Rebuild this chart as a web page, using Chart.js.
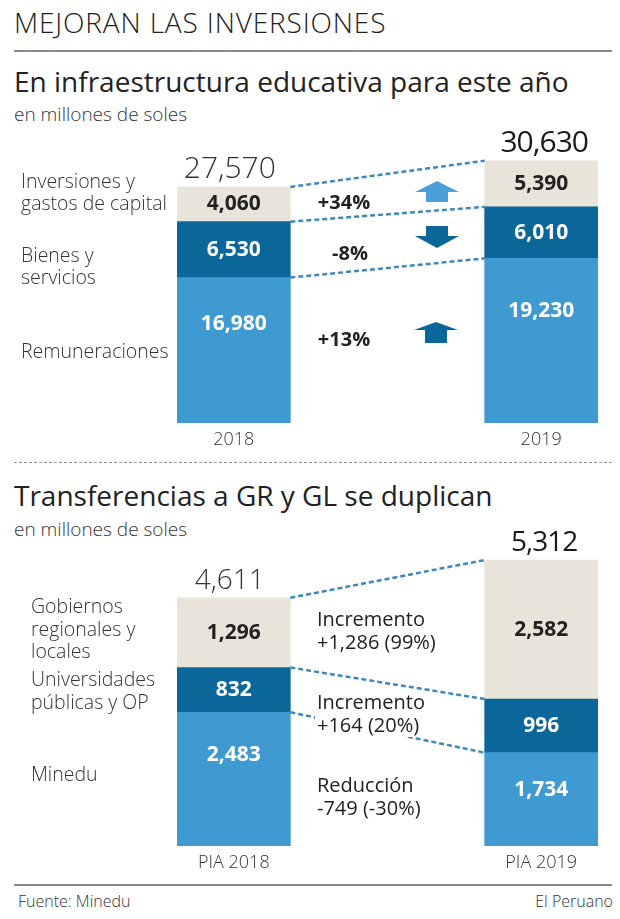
<!DOCTYPE html>
<html>
<head>
<meta charset="utf-8">
<script src="https://cdn.jsdelivr.net/npm/chart.js@4/dist/chart.umd.min.js"></script>
<style>
  body { margin: 0; background: #fff; }
  #page { position: relative; width: 620px; height: 919px; font-family: "Open Sans", sans-serif; color: #222; overflow: hidden; }
  .t { position: absolute; white-space: nowrap; line-height: 1; }
  canvas { position: absolute; left: 0; }
</style>
</head>
<body>
<div id="page">
  <div class="t" style="left:14px; top:8px; font-size:28px; font-weight:300; letter-spacing:0.85px;">MEJORAN LAS INVERSIONES</div>
  <div style="position:absolute; left:14px; top:50px; width:598px; height:2px; background:#8c8c8c;"></div>
  <div class="t" style="left:14px; top:67px; font-size:28px; font-weight:500;">En infraestructura educativa para este año</div>
  <div class="t" style="left:14px; top:105px; font-size:19px; font-weight:300; color:#333;">en millones de soles</div>

  <div style="position:absolute; left:14px; top:462px; width:598px; border-top:1.5px dashed #999;"></div>
  <div class="t" style="left:14px; top:481px; font-size:28px; font-weight:500;">Transferencias a GR y GL se duplican</div>
  <div class="t" style="left:14px; top:520px; font-size:19px; font-weight:300; color:#333;">en millones de soles</div>

  <div style="position:absolute; left:14px; top:884px; width:598px; height:2px; background:#8c8c8c;"></div>
  <div class="t" style="left:18px; top:893px; font-size:16px; font-weight:300; color:#333;">Fuente: Minedu</div>
  <div class="t" style="right:7px; top:893px; font-size:16px; font-weight:300; color:#333;">El Peruano</div>

  <canvas id="c1" width="620" height="320" style="top:130px;"></canvas>
  <canvas id="c2" width="620" height="410" style="top:470px;"></canvas>
</div>
<script>
// ─── Data ─────────────────────────────────────────────────────────────────────
const years1         = ['2018', '', '2019'];
const remuneraciones = [16980, null, 19230];
const bienes         = [6530, null, 6010];
const inversiones    = [4060, null, 5390];

const years2        = ['PIA 2018', '', 'PIA 2019'];
const minedu        = [2483, null, 1734];
const universidades = [832, null, 996];
const gobiernos     = [1296, null, 2582];

const BEIGE = '#e9e4d9';
const DARK  = '#0b6699';
const LIGHT = '#3f9ad1';
const FONT  = '"Open Sans", sans-serif';

const fmt = v => v.toLocaleString('en-US');

// ─── Overlay plugin: labels, connectors, arrows ───────────────────────────────
const overlay = {
  id: 'overlay',
  afterDatasetsDraw(chart, args, opts) {
    const c = chart.ctx;
    const off = opts.offset;
    const metas = chart.data.datasets.map((d, i) => chart.getDatasetMeta(i));

    // dashed connectors between segment tops
    c.save();
    c.strokeStyle = '#3f88bb';
    c.lineWidth = 2.5;
    c.setLineDash([5, 3]);
    metas.forEach(m => {
      const a = m.data[0], b = m.data[2];
      c.beginPath();
      c.moveTo(a.x + a.width / 2, a.y);
      c.lineTo(b.x - b.width / 2, b.y);
      c.stroke();
    });
    c.restore();

    // values inside segments
    c.save();
    c.textAlign = 'center';
    c.textBaseline = 'middle';
    c.font = `bold 21px ${FONT}`;
    metas.forEach((m, di) => {
      [0, 2].forEach(idx => {
        const el = m.data[idx];
        const v = chart.data.datasets[di].data[idx];
        const h = el.base - el.y;
        const y = di === 0 ? el.y + Math.max(0.32 * h, 37) : (el.y + el.base) / 2;
        c.fillStyle = di === 2 ? '#222' : '#fff';
        c.fillText(fmt(v), el.x, y);
      });
    });

    // totals and category labels
    const top = metas[metas.length - 1];
    [0, 2].forEach(idx => {
      const el = top.data[idx];
      const total = chart.data.datasets.reduce((s, d) => s + d.data[idx], 0);
      c.textBaseline = 'alphabetic';
      c.fillStyle = idx === 0 ? '#333' : '#1a1a1a';
      c.font = `${idx === 0 ? 300 : 400} ${opts.totalSize}px ${FONT}`;
      c.letterSpacing = idx === 0 ? '0px' : '-1px';
      c.fillText(fmt(total), el.x - (idx === 0 ? 4 : -3), el.y - 9);
      c.letterSpacing = '0px';
      c.font = `300 18px ${FONT}`;
      c.fillStyle = '#333';
      c.textBaseline = 'middle';
      c.fillText(chart.data.labels[idx], el.x, metas[0].data[idx].base + 17);
    });

    // left series labels
    c.textAlign = 'left';
    c.textBaseline = 'middle';
    c.font = `300 19.5px ${FONT}`;
    c.fillStyle = '#333';
    opts.left.forEach(([txt, x, y]) => c.fillText(txt, x, y - off));

    // middle notes
    opts.notes.forEach(([txt, x, y, bold, align]) => {
      c.font = `${bold ? 'bold' : '400'} 20px ${FONT}`;
      c.textAlign = align || 'left';
      if (!bold) {
        const w = c.measureText(txt).width;
        c.fillStyle = '#fff';
        c.fillRect(x - 2, y - off - 11, w + 4, 22);
      }
      c.fillStyle = '#222';
      c.fillText(txt, x, y - off);
    });

    // arrows
    opts.arrows.forEach(([cx, y0, up, col, head]) => {
      const y = y0 - off;
      c.fillStyle = col;
      c.beginPath();
      if (up) {
        c.moveTo(cx, y);
        c.lineTo(cx + 22, y + head);
        c.lineTo(cx + 11, y + head);
        c.lineTo(cx + 11, y + 21);
        c.lineTo(cx - 11, y + 21);
        c.lineTo(cx - 11, y + head);
        c.lineTo(cx - 22, y + head);
      } else {
        c.moveTo(cx - 11, y);
        c.lineTo(cx + 11, y);
        c.lineTo(cx + 11, y + 10);
        c.lineTo(cx + 22, y + 10);
        c.lineTo(cx, y + 22);
        c.lineTo(cx - 22, y + 10);
        c.lineTo(cx - 11, y + 10);
      }
      c.closePath();
      c.fill();
    });
    c.restore();
  }
};

function makeChart(id, labels, series, names, max, pad, extra) {
  const colors = [LIGHT, DARK, BEIGE];
  return new Chart(document.getElementById(id), {
    type: 'bar',
    data: {
      labels,
      datasets: series.map((s, i) => ({
        label: names[i],
        data: s,
        backgroundColor: colors[i],
        borderWidth: 0,
        barThickness: 113,
      }))
    },
    options: {
      responsive: false,
      animation: false,
      layout: { padding: pad },
      plugins: { legend: { display: false }, tooltip: { enabled: false }, overlay: extra },
      scales: {
        x: { stacked: true, display: false },
        y: { stacked: true, display: false, min: 0, max }
      }
    },
    plugins: [overlay]
  });
}

makeChart('c1', years1, [remuneraciones, bienes, inversiones],
  ['Remuneraciones', 'Bienes y servicios', 'Inversiones y gastos de capital'],
  32000, { left: 157, right: 2, top: 19, bottom: 27 },
  {
    offset: 130,
    totalSize: 30,
    left: [['Inversiones y', 21, 182], ['gastos de capital', 21, 204], ['Bienes y', 21, 256], ['servicios', 21, 278], ['Remuneraciones', 21, 352]],
    notes: [['+34%', 344, 203, true, 'center'], ['-8%', 350, 254, true, 'center'], ['+13%', 344, 340, true, 'center']],
    arrows: [[437, 181, true, '#4ba0da', 11], [437, 226, false, DARK, 10], [436, 322, true, DARK, 8]]
  });

makeChart('c2', years2, [minedu, universidades, gobiernos],
  ['Minedu', 'Universidades públicas y OP', 'Gobiernos regionales y locales'],
  6000, { left: 157, right: 2, top: 53, bottom: 34 },
  {
    offset: 470,
    totalSize: 28,
    left: [['Gobiernos', 31, 607], ['regionales y', 31, 630], ['locales', 31, 652], ['Universidades', 31, 680], ['públicas y OP', 31, 703], ['Minedu', 31, 775]],
    notes: [['Incremento', 317, 620], ['+1,286 (99%)', 317, 643], ['Incremento', 317, 703], ['+164 (20%)', 317, 726], ['Reducción', 317, 786], ['-749 (-30%)', 317, 809]],
    arrows: []
  });
</script>
</body>
</html>
